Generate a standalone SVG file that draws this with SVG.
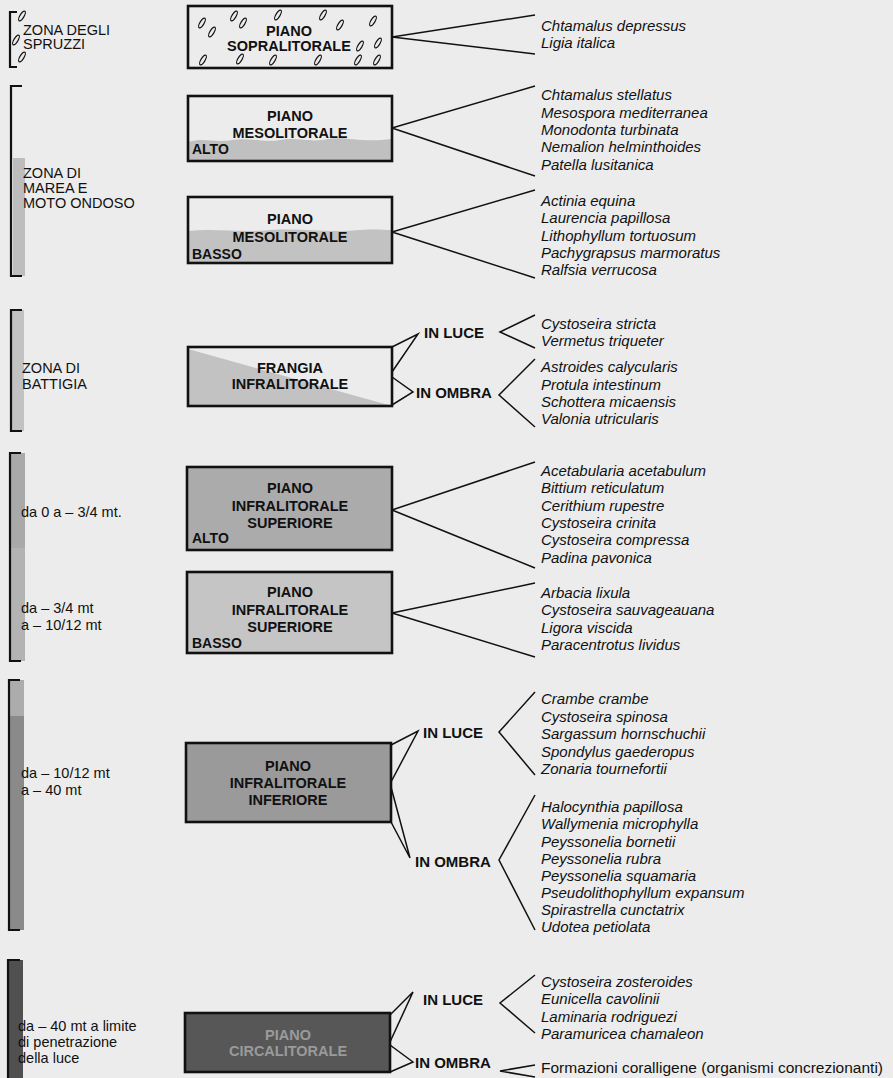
<svg xmlns="http://www.w3.org/2000/svg" xmlns:xlink="http://www.w3.org/1999/xlink" width="893" height="1078" viewBox="0 0 893 1078">
<defs>
<style>
text{font-family:"Liberation Sans",Arial,sans-serif;fill:#111}
.sp{font-size:15px;font-style:italic}
.bx{font-size:14.5px;font-weight:bold;text-anchor:middle}
.sub{font-size:14px;font-weight:bold}
.lb{font-size:14.5px}
.io{font-size:15px;font-weight:bold}
.box{stroke:#111;stroke-width:2.6}
.con{stroke:#111;stroke-width:1.5;fill:none;stroke-linejoin:miter}
.brk{stroke:#111;stroke-width:2.2;fill:none}
</style>
<g id="splash"><ellipse cx="0" cy="0" rx="5.5" ry="2" transform="rotate(-58)" fill="none" stroke="#111" stroke-width="1.2"/></g>
</defs>
<rect x="0" y="0" width="893" height="1078" fill="#ececec"/>

<!-- left zone bars -->
<g id="zone-spruzzi">
<path class="brk" d="M17,12 H10 V67 H17"/>
<use xlink:href="#splash" x="22" y="16"/>
<use xlink:href="#splash" x="16" y="40"/>
<use xlink:href="#splash" x="22" y="57"/>
<text class="lb" x="23" y="35">ZONA DEGLI</text>
<text class="lb" x="23" y="49">SPRUZZI</text>
</g>
<g id="zone-marea">
<rect x="13" y="158" width="12" height="118" fill="#bdbdbd"/>
<path class="brk" d="M22,86 H11 V276 H22"/>
<text class="lb" x="23" y="178">ZONA DI</text>
<text class="lb" x="23" y="193">MAREA E</text>
<text class="lb" x="23" y="208">MOTO ONDOSO</text>
</g>
<g id="zone-battigia">
<rect x="12" y="310" width="12" height="121" fill="#c2c2c2"/>
<path class="brk" d="M22,310 H11 V431 H22"/>
<text class="lb" x="22" y="373">ZONA DI</text>
<text class="lb" x="22" y="389">BATTIGIA</text>
</g>
<g id="zone-sup">
<rect x="10" y="453" width="15" height="95" fill="#a9a9a9"/>
<rect x="10" y="548" width="15" height="113" fill="#b3b3b3"/>
<path class="brk" d="M21,453 H10 V661 H21"/>
<text class="lb" x="21" y="517">da 0 a – 3/4 mt.</text>
<text class="lb" x="21" y="613">da – 3/4 mt</text>
<text class="lb" x="21" y="630">a – 10/12 mt</text>
</g>
<g id="zone-inf">
<rect x="9" y="680" width="15" height="36" fill="#acacac"/>
<rect x="9" y="716" width="15" height="214" fill="#8a8a8a"/>
<path class="brk" d="M20,680 H9 V930 H20"/>
<text class="lb" x="21" y="778">da – 10/12 mt</text>
<text class="lb" x="21" y="795">a – 40 mt</text>
</g>
<g id="zone-circa">
<rect x="8" y="960" width="15" height="118" fill="#505050"/>
<path class="brk" d="M20,960 H8 V1078"/>
<text class="lb" x="18" y="1031">da – 40 mt a limite</text>
<text class="lb" x="18" y="1047">di penetrazione</text>
<text class="lb" x="18" y="1063">della luce</text>
</g>

<!-- connectors -->
<g id="connectors" class="con">
<path d="M392,37 L535,15 M392,37 L535,54"/>
<path d="M392,128 L535,86 M392,128 L535,176"/>
<path d="M392,232 L535,190 M392,232 L535,278"/>
<path d="M392,347 L418,334 L392,372 M392,377 L413,392 L392,405"/>
<path d="M535,315 L500,332 L535,348"/>
<path d="M535,359 L499,395 L535,427"/>
<path d="M392,510 L535,462 M392,510 L535,568"/>
<path d="M392,613 L535,583 M392,613 L535,657"/>
<path d="M391,745 L418,731 L391,782 M391,787 L410,858 L391,822"/>
<path d="M535,692 L499,732 L535,775"/>
<path d="M535,795 L499,860 L535,930"/>
<path d="M390,1015 L413,992 L390,1042 M390,1045 L413,1062 L390,1072"/>
<path d="M535,975 L500,1003 L535,1033"/>
<path d="M535,1065 L500,1071 L535,1077"/>
</g>

<!-- nodes -->
<g id="sopralitorale">
<rect class="box" x="188" y="6" width="204" height="62" style="fill:#ececec"/>
<use xlink:href="#splash" x="202" y="23"/>
<use xlink:href="#splash" x="212" y="32"/>
<use xlink:href="#splash" x="234" y="16"/>
<use xlink:href="#splash" x="243" y="23"/>
<use xlink:href="#splash" x="278" y="15"/>
<use xlink:href="#splash" x="323" y="15"/>
<use xlink:href="#splash" x="340" y="25"/>
<use xlink:href="#splash" x="373" y="21"/>
<use xlink:href="#splash" x="360" y="46"/>
<use xlink:href="#splash" x="378" y="43"/>
<use xlink:href="#splash" x="358" y="60"/>
<use xlink:href="#splash" x="377" y="60"/>
<use xlink:href="#splash" x="318" y="60"/>
<use xlink:href="#splash" x="273" y="60"/>
<use xlink:href="#splash" x="240" y="59"/>
<use xlink:href="#splash" x="203" y="60"/>
<text class="bx" x="289" y="36">PIANO</text>
<text class="bx" x="289" y="51">SOPRALITORALE</text>
</g>

<g id="mesolitorale-alto">
<rect x="188" y="96" width="204" height="65" style="fill:#ececec"/>
<path d="M188,142 C205,137 215,143 232,140 C250,137 262,143 280,140 C298,137 310,143 328,139 C346,136 360,143 392,139 V161 H188 Z" fill="#c0c0c0"/>
<rect class="box" x="188" y="96" width="204" height="65" style="fill:none"/>
<text class="bx" x="290" y="121">PIANO</text>
<text class="bx" x="290" y="138">MESOLITORALE</text>
<text class="sub" x="192" y="154">ALTO</text>
</g>

<g id="mesolitorale-basso">
<rect x="188" y="197" width="204" height="66" style="fill:#ececec"/>
<path d="M188,231 C215,228 240,233 270,230 C300,228 330,233 360,230 C375,229 385,230 392,230 V263 H188 Z" fill="#c2c2c2"/>
<rect class="box" x="188" y="197" width="204" height="66" style="fill:none"/>
<text class="bx" x="290" y="224">PIANO</text>
<text class="bx" x="290" y="242">MESOLITORALE</text>
<text class="sub" x="192" y="259">BASSO</text>
</g>

<g id="frangia-infralitorale">
<rect x="188" y="347" width="204" height="59" style="fill:#ececec"/>
<polygon points="188,349 188,406 392,406" fill="#c2c2c2"/>
<rect class="box" x="188" y="347" width="204" height="59" style="fill:none"/>
<text class="bx" x="290" y="373">FRANGIA</text>
<text class="bx" x="290" y="389">INFRALITORALE</text>
</g>
<g id="frangia-luce"><text class="io" x="424" y="338">IN LUCE</text></g>
<g id="frangia-ombra"><text class="io" x="416" y="398">IN OMBRA</text></g>

<g id="infra-sup-alto">
<rect class="box" x="187" y="467" width="205" height="83" style="fill:#ababab"/>
<text class="bx" x="290" y="493">PIANO</text>
<text class="bx" x="290" y="511">INFRALITORALE</text>
<text class="bx" x="290" y="528">SUPERIORE</text>
<text class="sub" x="192" y="543">ALTO</text>
</g>

<g id="infra-sup-basso">
<rect class="box" x="187" y="572" width="205" height="81" style="fill:#c5c5c5"/>
<text class="bx" x="290" y="597">PIANO</text>
<text class="bx" x="290" y="615">INFRALITORALE</text>
<text class="bx" x="290" y="632">SUPERIORE</text>
<text class="sub" x="192" y="648">BASSO</text>
</g>

<g id="infra-inferiore">
<rect class="box" x="186" y="743" width="205" height="79" style="fill:#9a9a9a"/>
<text class="bx" x="288" y="771">PIANO</text>
<text class="bx" x="288" y="788">INFRALITORALE</text>
<text class="bx" x="288" y="805">INFERIORE</text>
</g>
<g id="inferiore-luce"><text class="io" x="423" y="738">IN LUCE</text></g>
<g id="inferiore-ombra"><text class="io" x="415" y="867">IN OMBRA</text></g>

<g id="circalitorale">
<rect class="box" x="185" y="1013" width="205" height="59" style="fill:#575757"/>
<text class="bx" x="288" y="1040" style="fill:#9a9a9a">PIANO</text>
<text class="bx" x="288" y="1056" style="fill:#9a9a9a">CIRCALITORALE</text>
</g>
<g id="circa-luce"><text class="io" x="423" y="1005">IN LUCE</text></g>
<g id="circa-ombra"><text class="io" x="415" y="1068">IN OMBRA</text></g>

<!-- species lists -->
<g id="species-sopra">
<text class="sp" x="541" y="31">Chtamalus depressus</text>
<text class="sp" x="541" y="48">Ligia italica</text>
</g>
<g id="species-meso-alto">
<text class="sp" x="541" y="100">Chtamalus stellatus</text>
<text class="sp" x="541" y="118">Mesospora mediterranea</text>
<text class="sp" x="541" y="135">Monodonta turbinata</text>
<text class="sp" x="541" y="152">Nemalion helminthoides</text>
<text class="sp" x="541" y="170">Patella lusitanica</text>
</g>
<g id="species-meso-basso">
<text class="sp" x="541" y="206">Actinia equina</text>
<text class="sp" x="541" y="223">Laurencia papillosa</text>
<text class="sp" x="541" y="241">Lithophyllum tortuosum</text>
<text class="sp" x="541" y="258">Pachygrapsus marmoratus</text>
<text class="sp" x="541" y="275">Ralfsia verrucosa</text>
</g>
<g id="species-frangia-luce">
<text class="sp" x="541" y="329">Cystoseira stricta</text>
<text class="sp" x="541" y="346">Vermetus triqueter</text>
</g>
<g id="species-frangia-ombra">
<text class="sp" x="541" y="372">Astroides calycularis</text>
<text class="sp" x="541" y="390">Protula intestinum</text>
<text class="sp" x="541" y="407">Schottera micaensis</text>
<text class="sp" x="541" y="424">Valonia utricularis</text>
</g>
<g id="species-sup-alto">
<text class="sp" x="541" y="476">Acetabularia acetabulum</text>
<text class="sp" x="541" y="493">Bittium reticulatum</text>
<text class="sp" x="541" y="511">Cerithium rupestre</text>
<text class="sp" x="541" y="528">Cystoseira crinita</text>
<text class="sp" x="541" y="545">Cystoseira compressa</text>
<text class="sp" x="541" y="563">Padina pavonica</text>
</g>
<g id="species-sup-basso">
<text class="sp" x="541" y="598">Arbacia lixula</text>
<text class="sp" x="541" y="615">Cystoseira sauvageauana</text>
<text class="sp" x="541" y="633">Ligora viscida</text>
<text class="sp" x="541" y="650">Paracentrotus lividus</text>
</g>
<g id="species-inf-luce">
<text class="sp" x="541" y="704">Crambe crambe</text>
<text class="sp" x="541" y="722">Cystoseira spinosa</text>
<text class="sp" x="541" y="739">Sargassum hornschuchii</text>
<text class="sp" x="541" y="757">Spondylus gaederopus</text>
<text class="sp" x="541" y="774">Zonaria tournefortii</text>
</g>
<g id="species-inf-ombra">
<text class="sp" x="541" y="812">Halocynthia papillosa</text>
<text class="sp" x="541" y="829">Wallymenia microphylla</text>
<text class="sp" x="541" y="847">Peyssonelia bornetii</text>
<text class="sp" x="541" y="864">Peyssonelia rubra</text>
<text class="sp" x="541" y="881">Peyssonelia squamaria</text>
<text class="sp" x="541" y="898">Pseudolithophyllum expansum</text>
<text class="sp" x="541" y="915">Spirastrella cunctatrix</text>
<text class="sp" x="541" y="932">Udotea petiolata</text>
</g>
<g id="species-circa-luce">
<text class="sp" x="541" y="987">Cystoseira zosteroides</text>
<text class="sp" x="541" y="1004">Eunicella cavolinii</text>
<text class="sp" x="541" y="1022">Laminaria rodriguezi</text>
<text class="sp" x="541" y="1039">Paramuricea chamaleon</text>
</g>
<g id="species-circa-ombra">
<text x="541" y="1073" style="font-size:15.5px">Formazioni coralligene (organismi concrezionanti)</text>
</g>
</svg>
